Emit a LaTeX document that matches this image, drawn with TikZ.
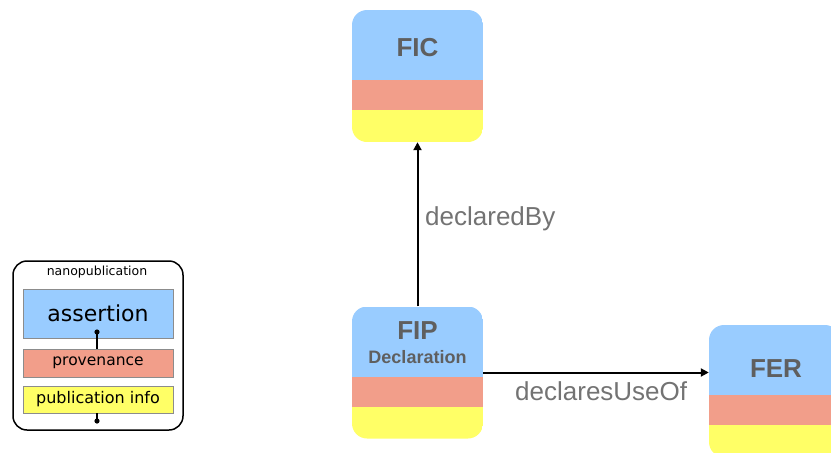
\documentclass[tikz,border=0pt]{standalone}
\usepackage{fontspec}
\setmainfont{Liberation Sans}
\newfontfamily\legendfont{DejaVu Sans}
\usetikzlibrary{arrows.meta}
\definecolor{cblue}{HTML}{99CCFF}
\definecolor{csalmon}{HTML}{F29E8A}
\definecolor{cyellow}{HTML}{FFFF66}
\definecolor{ctitle}{HTML}{5F5F5F}
\definecolor{clabel}{HTML}{737373}
\tikzset{
  bigbox/.style={minimum width=131pt, minimum height=132pt, inner sep=0pt, rounded corners=15pt,
    path picture={
      \fill[cblue, sharp corners] (path picture bounding box.north west) rectangle ([yshift=-70pt]path picture bounding box.north east);
      \fill[csalmon, sharp corners] ([yshift=-70pt]path picture bounding box.north west) rectangle ([yshift=-100pt]path picture bounding box.north east);
      \fill[cyellow, sharp corners] ([yshift=-100pt]path picture bounding box.north west) rectangle (path picture bounding box.south east);
    }},
  boxtitle/.style={font=\fontsize{26}{28}\selectfont\bfseries, text=ctitle, inner sep=0pt},
  boxsub/.style={font=\fontsize{18}{20}\selectfont\bfseries, text=ctitle, inner sep=0pt},
  edgelabel/.style={font=\fontsize{26}{28}\selectfont, text=clabel, inner sep=0pt, anchor=west},
  arr/.style={line width=2pt, -{Triangle[length=8pt,width=8pt]}},
  legbox/.style={draw=black!45, line width=0.8pt, minimum width=150pt, inner sep=0pt, font=\legendfont},
  dotline/.style={line width=1.5pt},
}
\begin{document}
\begin{tikzpicture}[x=1pt,y=-1pt]
\useasboundingbox (0,0) rectangle (831,453);
\clip (0,0) rectangle (831,453);
% big boxes
\node[bigbox] (fic) at (417.5,76) {};
\node[bigbox] (fip) at (417.5,372.5) {};
\node[bigbox] (fer) at (774.5,391) {};
\node[boxtitle] (ficT) at (417.5,48) {FIC};
\node[boxtitle] (fipT) at (417.5,331) {FIP};
\node[boxsub] (fipS) at (417.5,357) {Declaration};
\node[boxtitle] (ferT) at (776,369) {FER};
% connectors
\draw[arr] (fip.north) -- (fic.south);
\draw[arr] (fip.east) -- (fip.east -| fer.west);
\node[edgelabel] (l1) at (425,219) {declaredBy};
\node[edgelabel] (l2) at (515,391) {declaresUseOf};
% legend
\node[draw=black, line width=1.5pt, rounded corners=14pt, minimum width=170pt, minimum height=169pt, inner sep=0pt] (leg) at (98,345.5) {};
\node[font=\legendfont\fontsize{12.5}{14}\selectfont, inner sep=0pt] (legT) at (97,272) {nanopublication};
\node[legbox, fill=cblue, minimum height=49pt, font=\legendfont\fontsize{22}{24}\selectfont] (as) at (98,313.5) {assertion};
\node[legbox, fill=csalmon, minimum height=28pt, font=\legendfont\fontsize{15.5}{17}\selectfont] (pv) at (98,363) {provenance};
\node[legbox, fill=cyellow, minimum height=27pt, font=\legendfont\fontsize{16}{18}\selectfont] (pi) at (98,399.5) {publication info};
\coordinate (d1) at (97,332);
\coordinate (d2) at (97,421);
\draw[dotline] (d1) -- (d1 |- pv.north);
\fill (d1) circle (2.6pt);
\draw[dotline] (d2 |- pi.south) -- (d2);
\fill (d2) circle (2.6pt);
\end{tikzpicture}
\end{document}
